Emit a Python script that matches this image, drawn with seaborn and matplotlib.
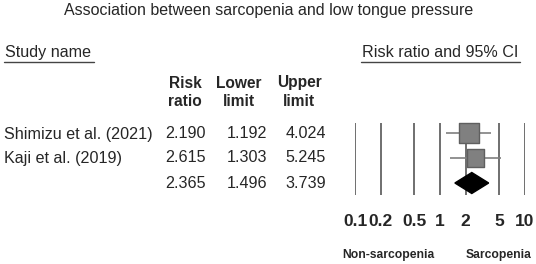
import matplotlib
matplotlib.use("Agg")
import matplotlib.pyplot as plt
import seaborn as sns
import pandas as pd
from matplotlib.lines import Line2D
from matplotlib.patches import Polygon

sns.set_style("white")
plt.rcParams['font.family'] = ['Liberation Sans', 'DejaVu Sans']

# ---- data ----
studies = ["Shimizu et al. (2021)", "Kaji et al. (2019)"]
risk_ratio = [2.190, 2.615]
lower_limit = [1.192, 1.303]
upper_limit = [4.024, 5.245]
weights = [200, 150]  # marker area (relative study weight)
pooled_rr = 2.365
pooled_lower = 1.496
pooled_upper = 3.739
tick_values = [0.1, 0.2, 0.5, 1, 2, 5, 10]
tick_labels = ["0.1", "0.2", "0.5", "1", "2", "5", "10"]
title = "Association between sarcopenia and low tongue pressure"
left_label = "Non-sarcopenia"
right_label = "Sarcopenia"

W, H = 536, 264
fig = plt.figure(figsize=(W / 100, H / 100), dpi=100)
fig.patch.set_facecolor("white")

def fx(px):
    return px / W

def fy(py):
    return 1 - py / H

# forest axes: x pixels 355..525, y pixels 108..208 -> rows -1..3
ax = fig.add_axes([fx(355), fy(208), fx(525) - fx(355), (208 - 108) / H])
ax.set_xscale("log")
ax.set_xlim(0.1, 10)
ax.set_ylim(3, -1)
for s in ax.spines.values():
    s.set_visible(False)
ax.set_facecolor("none")

# vertical reference lines
for t in tick_values:
    ax.vlines(t, -0.4, 2.48, color="#484848", lw=1.1, zorder=1)

rows = list(range(len(studies)))
# whiskers
ax.hlines(rows, lower_limit, upper_limit, color="#7f7f7f", lw=1.2, zorder=2)

df = pd.DataFrame({"rr": risk_ratio, "row": rows, "w": weights})
sns.scatterplot(data=df, x="rr", y="row", size="w", sizes=(min(weights), max(weights)),
                marker="s", color="#808080", edgecolor="#5f5f5f", linewidth=1.0,
                legend=False, ax=ax, zorder=3)
ax.set_xlim(0.1, 10)
ax.set_ylim(3, -1)

# pooled diamond
py = len(studies)
diamond = Polygon([[pooled_lower, py], [pooled_rr, py - 0.42], [pooled_upper, py],
                   [pooled_rr, py + 0.42]], closed=True, facecolor="black",
                  edgecolor="black", zorder=4)
ax.add_patch(diamond)

ax.set_xticks(tick_values)
ax.set_xticklabels(tick_labels, fontsize=12.5, fontweight="bold")
ax.minorticks_off()
ax.tick_params(axis="x", length=0, pad=4)
ax.set_yticks([])
ax.set_xlabel("")
ax.set_ylabel("")

# ---- texts ----
FS = 11.6
fig.text(fx(269), fy(11), title, ha="center", va="center", fontsize=11.5)
fig.text(fx(5), fy(53), "Study name", ha="left", va="center", fontsize=FS)
fig.text(fx(440), fy(53), "Risk ratio and 95% CI", ha="center", va="center", fontsize=FS)
fig.add_artist(Line2D([fx(4), fx(94)], [fy(62), fy(62)], color="#444444", lw=1))
fig.add_artist(Line2D([fx(361), fx(520)], [fy(62), fy(62)], color="#444444", lw=1))

hdr = [("Risk", "ratio", 185), ("Lower", "limit", 239), ("Upper", "limit", 299)]
for a, b, x in hdr:
    fig.text(fx(x), fy(83), a, ha="center", va="center", fontsize=11.2, fontweight="bold")
    fig.text(fx(x), fy(102), b, ha="center", va="center", fontsize=11.2, fontweight="bold")

row_y = [134, 158, 183]
for i, name in enumerate(studies):
    fig.text(fx(4), fy(row_y[i]), name, ha="left", va="center", fontsize=FS)
all_rr = risk_ratio + [pooled_rr]
all_lo = lower_limit + [pooled_lower]
all_hi = upper_limit + [pooled_upper]
for i in range(3):
    fig.text(fx(206), fy(row_y[i]), f"{all_rr[i]:.3f}", ha="right", va="center", fontsize=FS)
    fig.text(fx(267), fy(row_y[i]), f"{all_lo[i]:.3f}", ha="right", va="center", fontsize=FS)
    fig.text(fx(326), fy(row_y[i]), f"{all_hi[i]:.3f}", ha="right", va="center", fontsize=FS)

fig.text(fx(388), fy(255), left_label, ha="center", va="center", fontsize=8.7, fontweight="bold")
fig.text(fx(499), fy(255), right_label, ha="center", va="center", fontsize=8.7, fontweight="bold")

fig.savefig("out.png", dpi=100, facecolor="white")
